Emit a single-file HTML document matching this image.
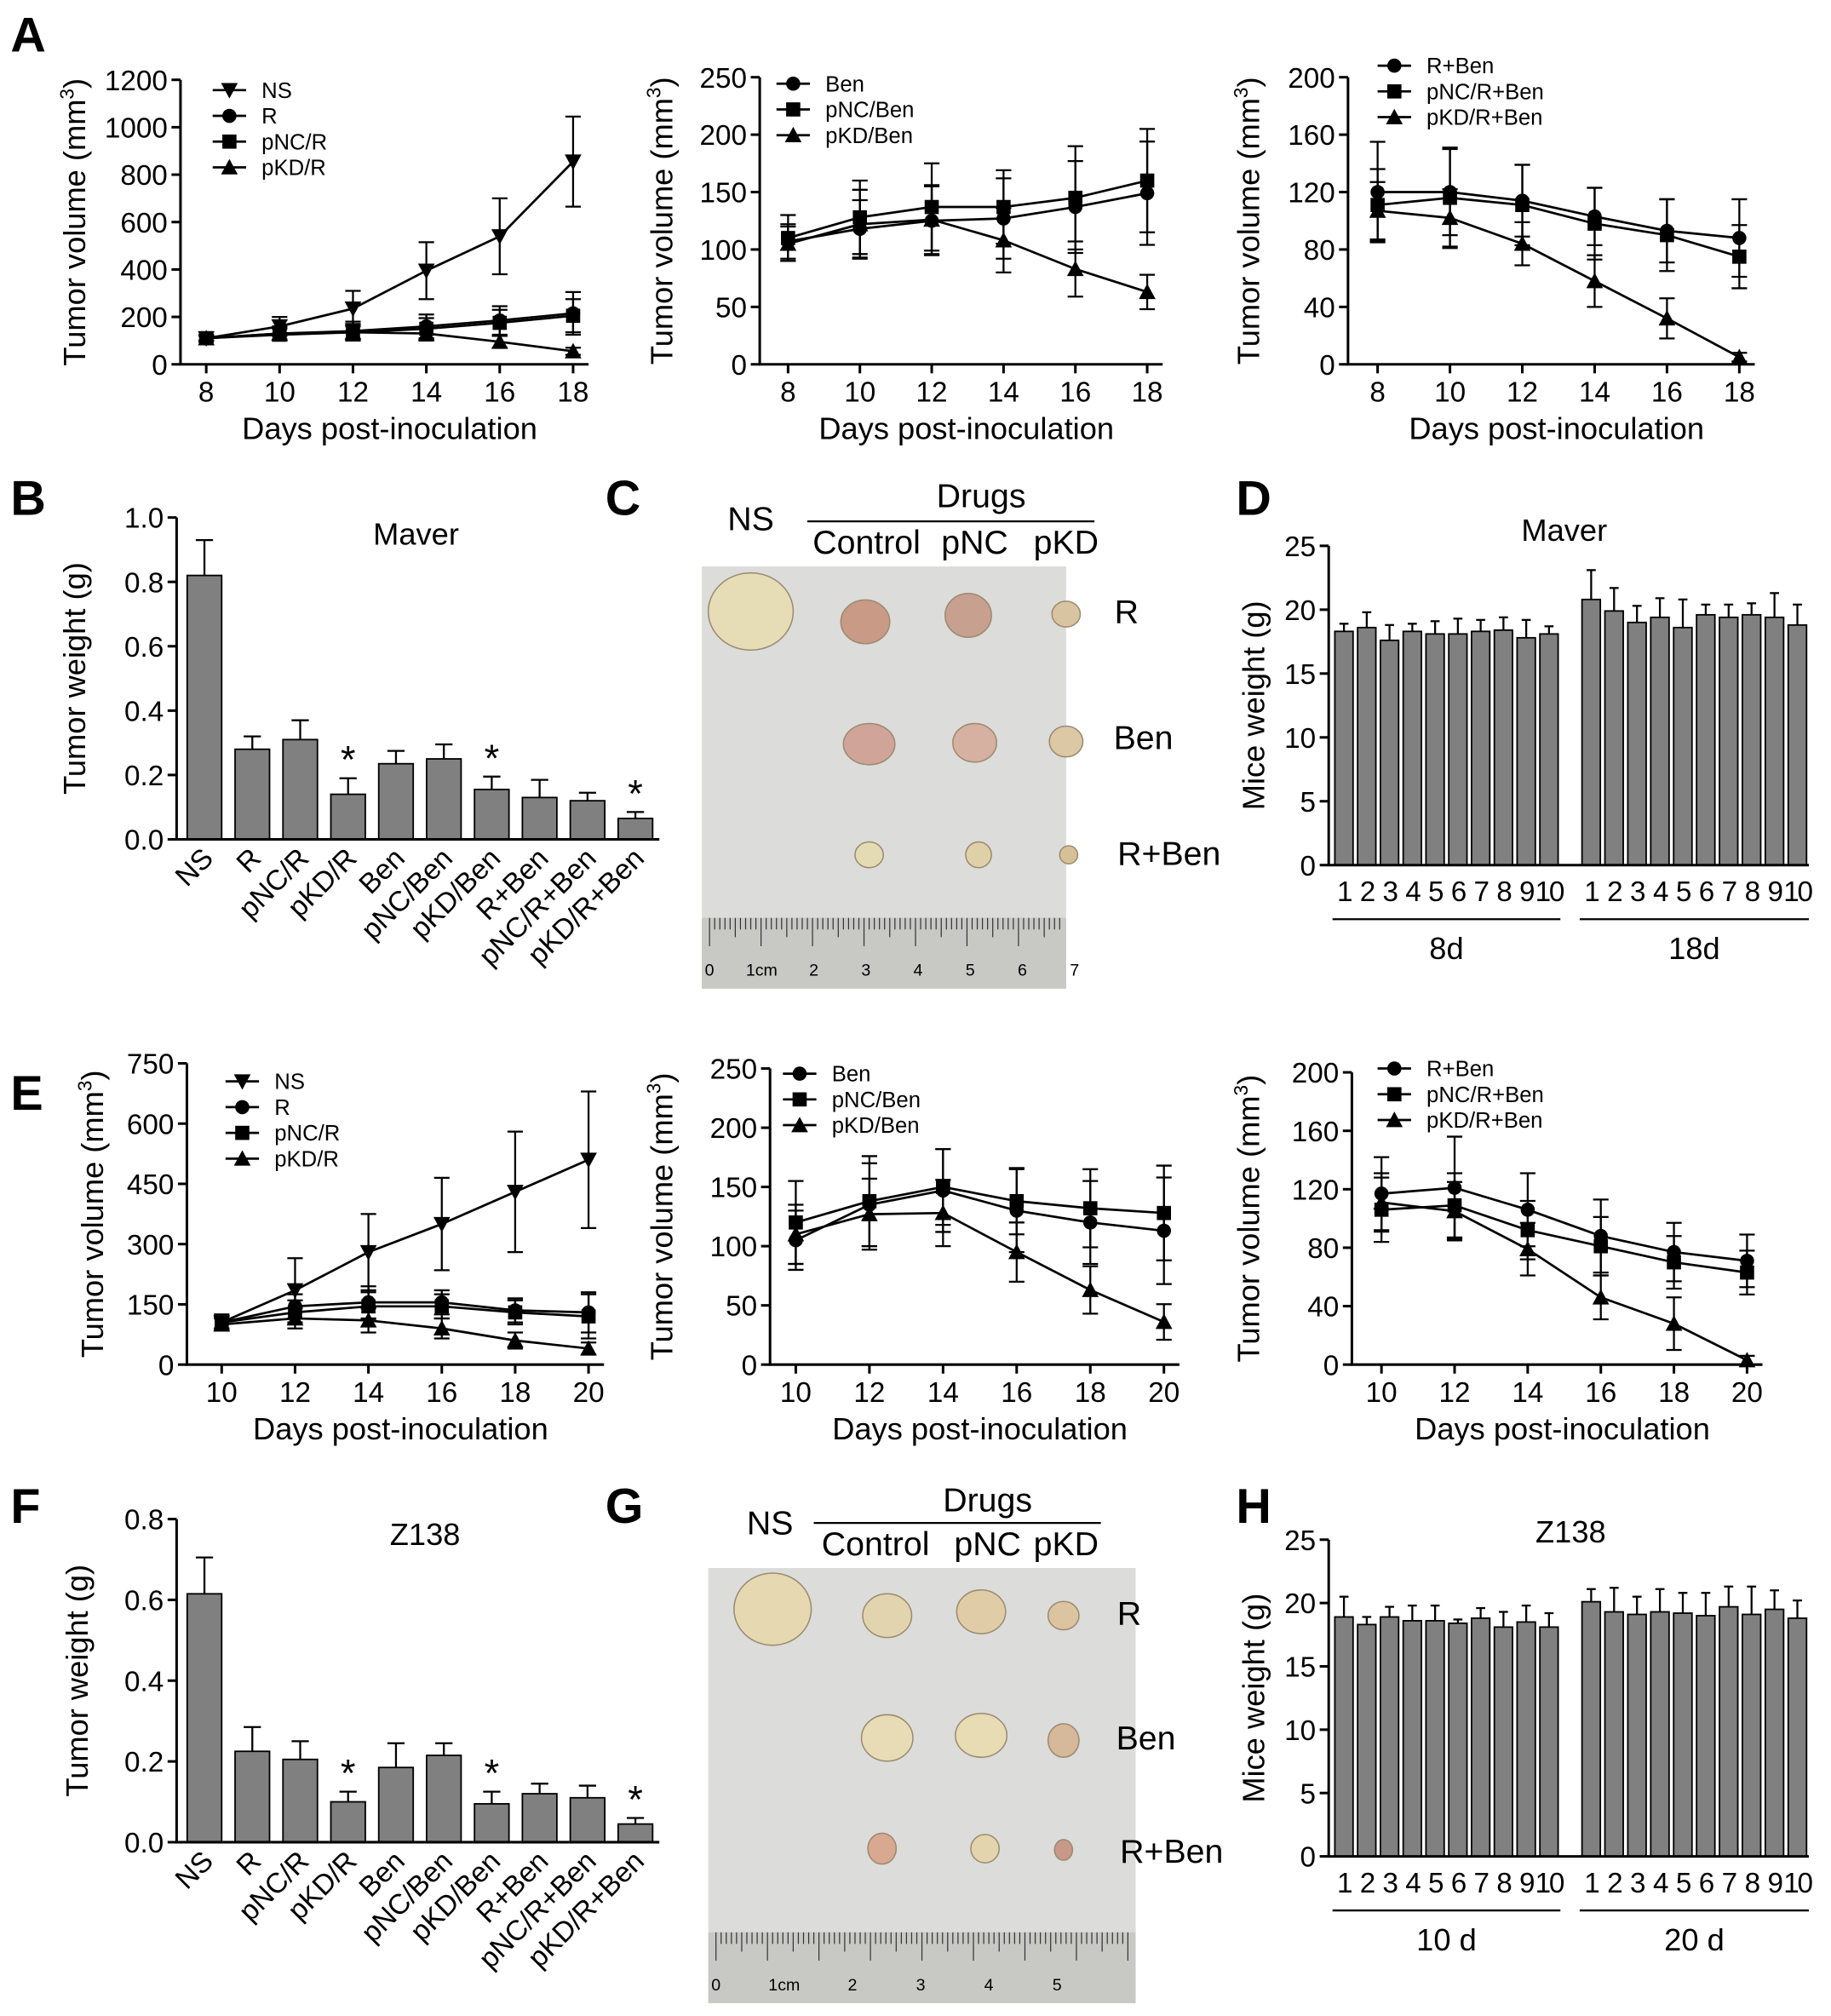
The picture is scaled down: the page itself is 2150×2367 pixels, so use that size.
<!DOCTYPE html>
<html><head><meta charset="utf-8">
<style>
html,body{margin:0;padding:0;background:#fff;}
svg{display:block;font-family:"Liberation Sans",Arial,sans-serif;}
</style></head>
<body>
<svg id="fig" width="2150" height="2367" viewBox="0 0 1422 1566" xmlns="http://www.w3.org/2000/svg"></svg>
<script>
// ---------- DATA ----------
const daysA = [8,10,12,14,16,18];
const a1NS = [110,160,235,395,540,855];
const a1NSerr = [15,40,75,120,160,190];
const a1R = [110,130,140,160,185,215];
const a1Rerr = [10,30,40,50,60,90];
const a1pNC = [110,125,135,150,175,205];
const a1pNCerr = [10,25,35,45,55,70];
const a1pKD = [110,130,135,130,95,55];
const a1pKDerr = [10,25,30,30,25,15];
const a1Ticks = [0,200,400,600,800,1000,1200];

const a2Ben = [107,118,125,127,137,149];
const a2BenErr = [15,25,30,35,40,45];
const a2pNC = [110,128,137,137,145,160];
const a2pNCerr = [20,32,38,32,45,45];
const a2pKD = [105,122,126,108,83,63];
const a2pKDerr = [15,30,30,28,24,15];
const a2Ticks = [0,50,100,150,200,250];

const a3RB = [120,120,114,103,93,88];
const a3RBerr = [35,30,25,20,22,27];
const a3pNC = [111,116,111,98,90,75];
const a3pNCerr = [25,35,28,25,25,22];
const a3pKD = [107,102,84,58,32,5];
const a3pKDerr = [20,20,15,18,14,3];
const a3Ticks = [0,40,80,120,160,200];

const daysE = [10,12,14,16,18,20];
const e1NS = [105,185,280,350,430,510];
const e1NSerr = [20,80,95,115,150,170];
const e1R = [105,145,155,155,135,130];
const e1Rerr = [15,30,40,30,30,50];
const e1pNC = [105,130,145,145,130,120];
const e1pNCerr = [15,30,35,30,30,55];
const e1pKD = [100,115,110,90,60,40];
const e1pKDerr = [15,25,30,25,20,15];
const e1Ticks = [0,150,300,450,600,750];

const e2Ben = [105,135,147,130,120,113];
const e2BenErr = [25,35,35,35,35,45];
const e2pNC = [120,138,150,138,132,128];
const e2pNCerr = [35,38,32,28,33,40];
const e2pKD = [110,127,128,95,63,36];
const e2pKDerr = [25,30,28,25,20,15];
const e2Ticks = [0,50,100,150,200,250];

const e3RB = [117,121,106,88,77,71];
const e3RBerr = [25,35,25,25,20,18];
const e3pNC = [106,109,92,81,70,63];
const e3pNCerr = [22,22,20,20,18,15];
const e3pKD = [111,105,79,46,28,3];
const e3pKDerr = [20,20,18,15,18,3];
const e3Ticks = [0,40,80,120,160,200];

const barCats = ["NS","R","pNC/R","pKD/R","Ben","pNC/Ben","pKD/Ben","R+Ben","pNC/R+Ben","pKD/R+Ben"];
const bVals = [0.82,0.28,0.31,0.14,0.235,0.25,0.155,0.13,0.12,0.065];
const bErr = [0.11,0.04,0.06,0.05,0.04,0.045,0.04,0.055,0.025,0.02];
const bStars = [3,6,9];
const bTicks = [0.0,0.2,0.4,0.6,0.8,1.0];
const fVals = [0.615,0.225,0.205,0.10,0.185,0.215,0.095,0.12,0.11,0.045];
const fErr = [0.09,0.06,0.045,0.025,0.06,0.03,0.03,0.025,0.03,0.015];
const fTicks = [0.0,0.2,0.4,0.6,0.8];

const mouseCats = ["1","2","3","4","5","6","7","8","9","10"];
const d8 = [18.3,18.6,17.6,18.3,18.1,18.1,18.3,18.4,17.8,18.1];
const d8err = [0.6,1.2,1.2,0.6,1.0,1.2,0.9,1.0,1.4,0.6];
const d18 = [20.8,19.9,19.0,19.4,18.6,19.6,19.4,19.6,19.4,18.8];
const d18err = [2.3,1.8,1.3,1.5,2.2,0.8,1.0,0.9,1.9,1.6];
const h10 = [18.9,18.3,18.9,18.6,18.6,18.4,18.8,18.1,18.5,18.1];
const h10err = [1.6,0.6,0.8,1.2,1.2,0.3,0.8,1.2,1.3,1.1];
const h20 = [20.1,19.3,19.1,19.3,19.2,19.0,19.7,19.1,19.5,18.8];
const h20err = [1.0,1.9,1.4,1.8,1.6,1.8,1.6,2.2,1.5,1.4];
const mTicks = [0,5,10,15,20,25];

// ---------- HELPERS ----------
const NS = "http://www.w3.org/2000/svg";
const svg = document.getElementById('fig');
function el(tag, attrs, parent, text){
  const e = document.createElementNS(NS, tag);
  for (const k in attrs) e.setAttribute(k, attrs[k]);
  if (text !== undefined) e.textContent = text;
  (parent||svg).appendChild(e);
  return e;
}
function marker(g, shape, x, y){
  const s = 5.5;
  let m;
  if (shape==='circle') m = el('circle',{cx:x,cy:y,r:s,fill:'#000'},g);
  else if (shape==='square') m = el('rect',{x:x-s,y:y-s,width:2*s,height:2*s,fill:'#000'},g);
  else if (shape==='tri') m = el('polygon',{points:`${x},${y-s-1} ${x-s-1},${y+s} ${x+s+1},${y+s}`,fill:'#000'},g);
  else m = el('polygon',{points:`${x},${y+s+1} ${x-s-1},${y-s} ${x+s+1},${y-s}`,fill:'#000'},g);
  return m;
}
function lineChart(name, o){
  const g = el('g',{}, svg);
  
  
  const ymax = o.ticks[o.ticks.length-1];
  const X = d => o.x0 + (d - o.xs[0])/(o.xs[o.xs.length-1]-o.xs[0])*(o.x1-o.x0);
  const Y = v => o.y0 - v/ymax*(o.y0-o.y1);
  const ax = el('path',{d:`M${o.ax},${o.y1} V${o.y0} H${o.x1+12}`,stroke:'#000','stroke-width':2,fill:'none'},g);
   
  o.ticks.forEach(t=>{
    el('line',{x1:o.ax-7,x2:o.ax,y1:Y(t),y2:Y(t),stroke:'#000','stroke-width':2},g);
    const tl = el('text',{x:o.ax-10,y:Y(t)+8,'text-anchor':'end','font-size':22},g,String(t));
     
  });
  o.xs.forEach(d=>{
    el('line',{x1:X(d),x2:X(d),y1:o.y0,y2:o.y0+7,stroke:'#000','stroke-width':2},g);
    const tl = el('text',{x:X(d),y:o.y0+29,'text-anchor':'middle','font-size':22},g,String(d));
     
  });
  const xt = el('text',{x:(o.ax+o.x1)/2+10,y:o.y0+58,'text-anchor':'middle','font-size':24},g,'Days post-inoculation');
   
  const yc = (o.y0+o.y1)/2;
  const yt = el('text',{x:o.ytx,y:yc,'text-anchor':'middle','font-size':24,transform:`rotate(-90 ${o.ytx} ${yc})`},g);
   
  el('tspan',{},yt,'Tumor volume (mm');
  el('tspan',{'font-size':15,dy:-9},yt,'3');
  el('tspan',{dy:9},yt,')');
  o.series.forEach((s,si)=>{
    const sg = el('g',{},g);
    
    
    el('polyline',{points:s.v.map((v,i)=>X(o.xs[i])+','+Y(v)).join(' '),fill:'none',stroke:'#000','stroke-width':1.8},sg);
    s.v.forEach((v,i)=>{
      const x = X(o.xs[i]), e = s.e[i];
      el('line',{x1:x,x2:x,y1:Y(v+e),y2:Y(Math.max(0,v-e)),stroke:'#000','stroke-width':1.5},sg);
      el('line',{x1:x-6,x2:x+6,y1:Y(v+e),y2:Y(v+e),stroke:'#000','stroke-width':1.5},sg);
      el('line',{x1:x-6,x2:x+6,y1:Y(Math.max(0,v-e)),y2:Y(Math.max(0,v-e)),stroke:'#000','stroke-width':1.5},sg);
      marker(sg, s.m, x, Y(v));
    });
    const ly = o.ly + si*20, lx = o.lx;
    const lg = el('g',{},g);
     
    el('line',{x1:lx,x2:lx+26,y1:ly,y2:ly,stroke:'#000','stroke-width':1.8},lg);
    marker(lg, s.m, lx+13, ly);
    el('text',{x:lx+38,y:ly+6,'font-size':17},lg,s.label);
  });
}
function barChart(name, o){
  const g = el('g',{}, svg);
  
  
  const ymax = o.ticks[o.ticks.length-1];
  const Y = v => o.y0 - v/ymax*(o.y0-o.y1);
  const bf = o.bf || 0.8;
  o.ticks.forEach(t=>{
    el('line',{x1:o.ax-7,x2:o.ax,y1:Y(t),y2:Y(t),stroke:'#000','stroke-width':2},g);
    const tl = el('text',{x:o.ax-10,y:Y(t)+8,'text-anchor':'end','font-size':22},g,o.fmt(t));
     
  });
  const yc=(o.y0+o.y1)/2;
  const yt = el('text',{x:o.ytx,y:yc,'text-anchor':'middle','font-size':24,transform:`rotate(-90 ${o.ytx} ${yc})`},g,o.ytitle);
   
  const tt = el('text',{x:o.tx,y:o.ty,'text-anchor':'middle','font-size':24},g,o.title);
   
  o.groups.forEach(gr=>{
    const n = gr.v.length, w = (gr.x1-gr.x0)/n;
    gr.v.forEach((v,i)=>{
      const bw = w*bf, cx = gr.x0+i*w+w/2, bx = cx-bw/2;
      const e = gr.e[i];
      el('line',{x1:cx,x2:cx,y1:Y(v),y2:Y(v+e),stroke:'#000','stroke-width':1.5},g);
      el('line',{x1:cx-bw*0.25,x2:cx+bw*0.25,y1:Y(v+e),y2:Y(v+e),stroke:'#000','stroke-width':1.5},g);
      const r = el('rect',{x:bx,y:Y(v),width:bw,height:o.y0-Y(v),fill:'#808080',stroke:'#000','stroke-width':1.2},g);
      
      
      if (gr.stars && gr.stars.includes(i)){
        const st = el('text',{x:cx,y:Y(v+e)-4,'text-anchor':'middle','font-size':30},g,'*');
         
      }
      let lab;
      if (gr.rot) lab = el('text',{x:cx+8,y:o.y0+16,'text-anchor':'end','font-size':22,transform:`rotate(-45 ${cx+8} ${o.y0+16})`},g,gr.cats[i]);
      else lab = el('text',{x:cx,y:o.y0+28,'text-anchor':'middle','font-size':22,'letter-spacing':-1.5},g,gr.cats[i]);
       
    });
    if (gr.group){
      el('line',{x1:gr.x0,x2:gr.x1,y1:o.y0+42,y2:o.y0+42,stroke:'#000','stroke-width':1.5},g);
      const gl = el('text',{x:(gr.x0+gr.x1)/2,y:o.y0+73,'text-anchor':'middle','font-size':24},g,gr.group);
       
    }
  });
  const ax = el('path',{d:`M${o.ax},${o.y1} V${o.y0} H${o.x1}`,stroke:'#000','stroke-width':2,fill:'none'},g);
   
}
function photo(name, o){
  const g = el('g',{}, svg);
  
  
  el('rect',{x:o.x,y:o.y,width:o.w,height:o.h,fill:'#dcdcda'},g);
  el('rect',{x:o.x,y:o.y+o.h-55,width:o.w,height:55,fill:'#c8c8c4'},g);
  for(let i=0;i<=o.w-10;i+=4){
    const L = (i%40===0)?22:((i%20===0)?15:9);
    el('line',{x1:o.x+6+i,x2:o.x+6+i,y1:o.y+o.h-55,y2:o.y+o.h-55+L,stroke:'#333','stroke-width':0.8},g);
  }
  o.ruler.forEach((t,i)=>el('text',{x:o.x+6+i*o.rs,y:o.y+o.h-10,'font-size':13,'text-anchor':'middle'},g,t));
  o.tumors.forEach(t=>{
    const tu = el('ellipse',{cx:t[0],cy:t[1],rx:t[2],ry:t[3],fill:t[4],stroke:'#9a8a70','stroke-width':1},g);
     
  });
  const txt=(x,y,s,sz)=>{const t=el('text',{x:x,y:y,'text-anchor':'middle','font-size':sz||26},g,s);};
  o.labels.forEach(l=>txt(l[0],l[1],l[2]));
  el('line',{x1:o.lineX0,x2:o.lineX1,y1:o.lineY,y2:o.lineY,stroke:'#000','stroke-width':1.5},g);
}

// ---------- PANELS ----------
lineChart('chart-a-r', {xs:daysA,x0:160,x1:445,ax:140,y0:283,y1:62,ticks:a1Ticks,ytx:66,lx:165,ly:70,
  series:[{label:'NS',v:a1NS,e:a1NSerr,m:'itri'},{label:'R',v:a1R,e:a1Rerr,m:'circle'},{label:'pNC/R',v:a1pNC,e:a1pNCerr,m:'square'},{label:'pKD/R',v:a1pKD,e:a1pKDerr,m:'tri'}]});
lineChart('chart-a-ben', {xs:daysA,x0:612,x1:891,ax:590,y0:283,y1:60,ticks:a2Ticks,ytx:522,lx:603,ly:65,
  series:[{label:'Ben',v:a2Ben,e:a2BenErr,m:'circle'},{label:'pNC/Ben',v:a2pNC,e:a2pNCerr,m:'square'},{label:'pKD/Ben',v:a2pKD,e:a2pKDerr,m:'tri'}]});
lineChart('chart-a-rben', {xs:daysA,x0:1070,x1:1351,ax:1047,y0:283,y1:60,ticks:a3Ticks,ytx:978,lx:1070,ly:51,
  series:[{label:'R+Ben',v:a3RB,e:a3RBerr,m:'circle'},{label:'pNC/R+Ben',v:a3pNC,e:a3pNCerr,m:'square'},{label:'pKD/R+Ben',v:a3pKD,e:a3pKDerr,m:'tri'}]});
lineChart('chart-e-r', {xs:daysE,x0:172,x1:457,ax:145,y0:1060,y1:826,ticks:e1Ticks,ytx:80,lx:175,ly:840,
  series:[{label:'NS',v:e1NS,e:e1NSerr,m:'itri'},{label:'R',v:e1R,e:e1Rerr,m:'circle'},{label:'pNC/R',v:e1pNC,e:e1pNCerr,m:'square'},{label:'pKD/R',v:e1pKD,e:e1pKDerr,m:'tri'}]});
lineChart('chart-e-ben', {xs:daysE,x0:618,x1:904,ax:598,y0:1060,y1:830,ticks:e2Ticks,ytx:522,lx:608,ly:834,
  series:[{label:'Ben',v:e2Ben,e:e2BenErr,m:'circle'},{label:'pNC/Ben',v:e2pNC,e:e2pNCerr,m:'square'},{label:'pKD/Ben',v:e2pKD,e:e2pKDerr,m:'tri'}]});
lineChart('chart-e-rben', {xs:daysE,x0:1073,x1:1357,ax:1050,y0:1060,y1:833,ticks:e3Ticks,ytx:978,lx:1070,ly:830,
  series:[{label:'R+Ben',v:e3RB,e:e3RBerr,m:'circle'},{label:'pNC/R+Ben',v:e3pNC,e:e3pNCerr,m:'square'},{label:'pKD/R+Ben',v:e3pKD,e:e3pKDerr,m:'tri'}]});

barChart('chart-b-tumor-weight',{ax:137,x1:512,y0:652,y1:402,ticks:bTicks,fmt:t=>t.toFixed(1),ytx:66,ytitle:'Tumor weight (g)',title:'Maver',tx:323,ty:423,bf:0.72,
  groups:[{cats:barCats,v:bVals,e:bErr,stars:bStars,x0:140,x1:512,rot:true}]});
barChart('chart-f-tumor-weight',{ax:137,x1:512,y0:1431,y1:1180,ticks:fTicks,fmt:t=>t.toFixed(1),ytx:68,ytitle:'Tumor weight (g)',title:'Z138',tx:330,ty:1200,bf:0.72,
  groups:[{cats:barCats,v:fVals,e:fErr,stars:bStars,x0:140,x1:512,rot:true}]});
barChart('chart-d-mice-weight',{ax:1032,x1:1405,y0:672,y1:424,ticks:mTicks,fmt:t=>String(t),ytx:982,ytitle:'Mice weight (g)',title:'Maver',tx:1215,ty:420,
  groups:[{cats:mouseCats,v:d8,e:d8err,x0:1035,x1:1212,group:'8d'},{cats:mouseCats,v:d18,e:d18err,x0:1227,x1:1405,group:'18d'}]});
barChart('chart-h-mice-weight',{ax:1032,x1:1405,y0:1442,y1:1196,ticks:mTicks,fmt:t=>String(t),ytx:982,ytitle:'Mice weight (g)',title:'Z138',tx:1220,ty:1198,
  groups:[{cats:mouseCats,v:h10,e:h10err,x0:1035,x1:1212,group:'10 d'},{cats:mouseCats,v:h20,e:h20err,x0:1227,x1:1405,group:'20 d'}]});

photo('photo-c-maver-tumors',{x:545,y:440,w:283,h:328,rs:40.5,ruler:['0','1cm','2','3','4','5','6','7'],
  tumors:[[583,475,33,30,'#e6dcb6'],[672,483,19,17,'#c99a86'],[752,478,18,17,'#c8a090'],[828,477,11,10,'#d8c4a0'],
    [675,578,20,16,'#d0a498'],[757,577,17,15,'#d6b0a0'],[828,576,13,12,'#dcc8a4'],[675,664,11,10,'#e4dab4'],[760,664,10,10,'#e0d0a8'],[830,664,7,7,'#d6c098']],
  labels:[[583,412,'NS'],[762,394,'Drugs'],[673,430,'Control'],[757,430,'pNC'],[828,430,'pKD'],[875,484,'R'],[888,582,'Ben'],[908,672,'R+Ben']],
  lineX0:627,lineX1:850,lineY:405});
photo('photo-g-z138-tumors',{x:550,y:1218,w:332,h:338,rs:53,ruler:['0','1cm','2','3','4','5'],
  tumors:[[600,1250,30,28,'#e6d8b0'],[689,1255,19,17,'#e2d4ae'],[762,1252,19,17,'#e0cca6'],[826,1255,12,11,'#dcc4a0'],
    [689,1350,20,18,'#e8dcb6'],[762,1348,20,17,'#e8dcb4'],[826,1352,12,13,'#d6b89a'],[685,1436,11,12,'#d8a890'],[765,1436,11,11,'#e4d4ae'],[826,1437,7,8,'#c89888']],
  labels:[[598,1192,'NS'],[767,1174,'Drugs'],[680,1208,'Control'],[767,1208,'pNC'],[828,1208,'pKD'],[877,1262,'R'],[890,1359,'Ben'],[910,1447,'R+Ben']],
  lineX0:632,lineX1:855,lineY:1183});

// panel letters
[['A',8,40],['B',8,400],['C',470,400],['D',960,400],['E',8,862],['F',8,1183],['G',470,1183],['H',960,1183]].forEach(p=>{
  const t = el('text',{x:p[1],y:p[2],'font-size':38,'font-weight':'bold'},svg,p[0]);
  
  
});
</script>
</body></html>
